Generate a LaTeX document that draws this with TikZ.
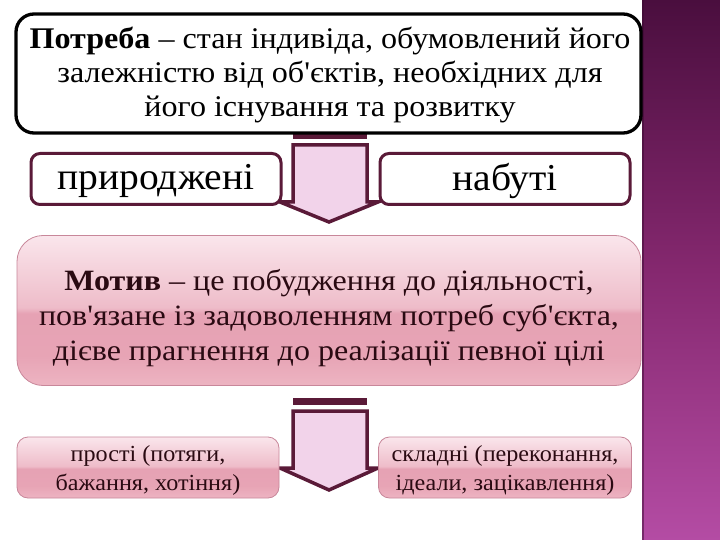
\documentclass[tikz,border=0pt]{standalone}
\usepackage{fontspec}
\setmainfont{Liberation Serif}
\newfontfamily\ftop[FakeStretch=1.07]{Liberation Serif}
\newfontfamily\fmid[FakeStretch=1.085]{Liberation Serif}
\newfontfamily\fsm[FakeStretch=1.04]{Liberation Serif}
\newfontfamily\flow[FakeStretch=1.05]{Liberation Serif}
\definecolor{maroon}{HTML}{5A1A38}
\definecolor{arrowfill}{HTML}{F2D3EA}
\definecolor{pinkedge}{HTML}{C8879A}
\definecolor{txtdark}{HTML}{2A0A12}
\definecolor{barTop}{HTML}{4A0E3E}
\definecolor{barMid}{HTML}{85286F}
\definecolor{barBot}{HTML}{B44CA4}
\definecolor{pkA}{HTML}{EDB4C2}
\definecolor{pkB}{HTML}{E7A4B5}
\definecolor{pkC}{HTML}{E6A2B4}
\definecolor{pkD}{HTML}{EEBCC9}
\definecolor{pkE}{HTML}{F5D4DD}
\definecolor{pkF}{HTML}{FAE6EC}
\pgfdeclareverticalshading{pinkgloss}{100bp}{%
  color(0bp)=(pkA); color(25bp)=(pkA); color(35bp)=(pkB);
  color(49bp)=(pkC); color(51bp)=(pkD); color(65bp)=(pkE);
  color(75bp)=(pkF); color(100bp)=(pkF)}
\begin{document}
\begin{tikzpicture}[x=1pt,y=-1pt,
  topbox/.style={draw=black, line width=3.3pt, rounded corners=18pt, fill=white,
    minimum width=625pt, minimum height=119pt, inner sep=0pt},
  toptext/.style={align=center, inner sep=0pt, font=\ftop\fontsize{30}{34}\selectfont},
  smallbox/.style={draw=maroon, line width=3pt, rounded corners=9pt, fill=white,
    minimum width=250pt, minimum height=51pt, inner sep=0pt},
  smalltext/.style={inner sep=0pt, font=\fsm\fontsize{38}{42}\selectfont},
  pinkbox/.style={draw=pinkedge, line width=0.8pt, shading=pinkgloss, inner sep=0pt},
  bigpink/.style={pinkbox, rounded corners=26pt, minimum width=624pt, minimum height=150pt},
  midtext/.style={align=center, inner sep=0pt, text=txtdark,
    font=\fmid\fontsize{29.5}{35}\selectfont},
  lowpink/.style={pinkbox, rounded corners=11pt, minimum height=61pt},
  lowtext/.style={align=center, inner sep=0pt, text=txtdark,
    font=\flow\fontsize{23}{29}\selectfont},
  blockarrow/.style={draw=maroon, line width=3.5pt, fill=arrowfill, line join=miter},
  stripe/.style={fill=maroon}]
\useasboundingbox (0,0) rectangle (720,540);
\fill[white] (0,0) rectangle (720,540);
% right decorative bar
\shade[top color=barTop, bottom color=barBot, middle color=barMid] (642,0) rectangle (720,540);
\fill[barTop!80!black, opacity=0.5] (642,0) rectangle (644,540);

% arrow 1
\fill[stripe] (293,133) rectangle (367,139.5);
\draw[blockarrow] (293,145) -- (367,145) -- (367,202) -- (378,202) -- (329,222)
  -- (280,202) -- (293,202) -- cycle;
% arrow 2
\fill[stripe] (293,398) rectangle (367,405);
\draw[blockarrow] (293,411) -- (367,411) -- (367,468) -- (378,468) -- (329,490)
  -- (280,468) -- (293,468) -- cycle;

\node[topbox] (potreba) at (328.5,73.5) {};
\node[toptext] (potrebaT) at (330,75)
  {\textbf{Потреба} – стан індивіда, обумовлений його\\
   залежністю від об'єктів, необхідних для\\
   його існування та розвитку};
\node[smallbox] (pryr) at (156,179) {};
\node[smalltext] (pryrT) at (156,181) {природжені};
\node[smallbox] (nab) at (505,179) {};
\node[smalltext] (nabT) at (505,181) {набуті};
\node[bigpink] (motyv) at (329,310.5) {};
\node[midtext] (motyvT) at (329,318)
  {\textbf{Мотив} – це побудження до діяльності,\\
   пов'язане із задоволенням потреб суб'єкта,\\
   дієве прагнення до реалізації певної цілі};
\node[lowpink, minimum width=262pt] (prosti) at (148,467.5) {};
\node[lowtext] (prostiT) at (148,470.5) {прості (потяги,\\ бажання, хотіння)};
\node[lowpink, minimum width=253pt] (skladni) at (505,467.5) {};
\node[lowtext] (skladniT) at (505,470.5) {складні (переконання,\\ ідеали, зацікавлення)};
\end{tikzpicture}
\end{document}
